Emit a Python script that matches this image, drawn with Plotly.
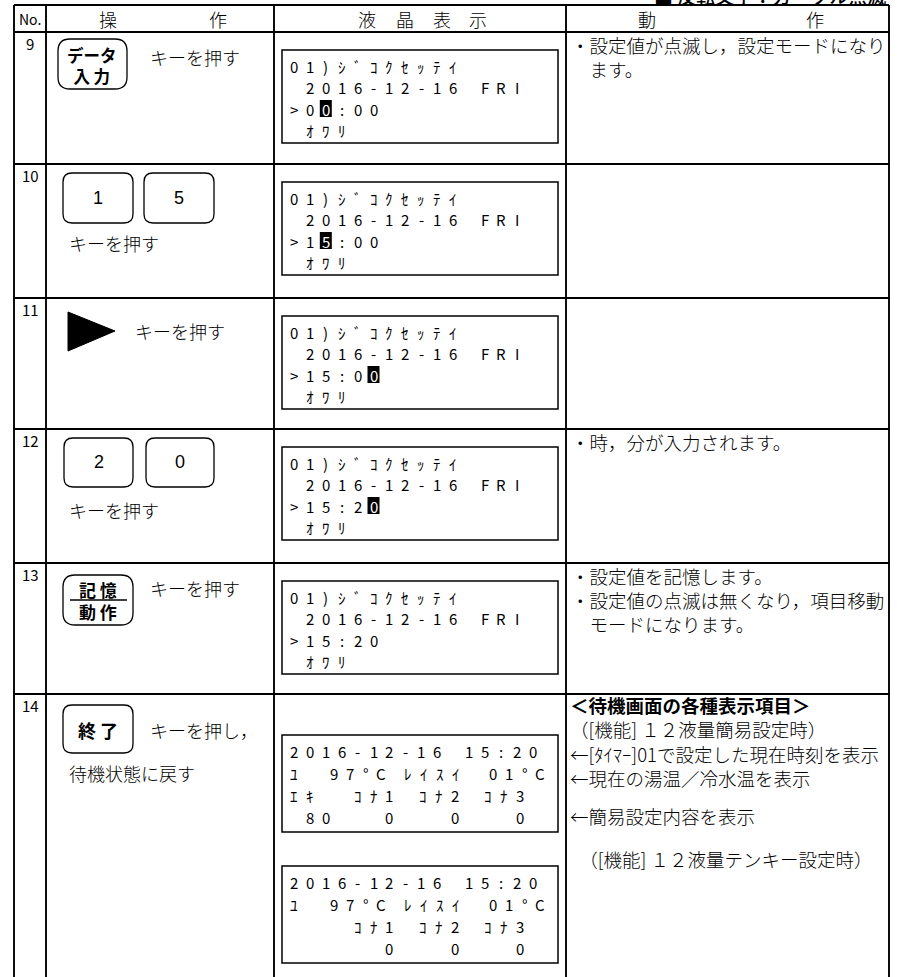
import plotly.graph_objects as go

W, H = 897, 977
JP = "Noto Sans CJK JP"

# ---------------- content ----------------
row_numbers = ["9", "10", "11", "12", "13", "14"]
header_no = "No."
header_op = ["操", "作"]
header_lcd = ["液", "晶", "表", "示"]
header_act = ["動", "作"]
legend_note = "■ 反転文字：カーソル点滅"

key_press = "キーを押す"
key_press_back = "キーを押し，"
back_to_wait = "待機状態に戻す"

lcd_screens = [
    ["01)ｼﾞｺｸｾｯﾃｲ", " 2016-12-16 FRI", ">00:00", " ｵﾜﾘ"],
    ["01)ｼﾞｺｸｾｯﾃｲ", " 2016-12-16 FRI", ">15:00", " ｵﾜﾘ"],
    ["01)ｼﾞｺｸｾｯﾃｲ", " 2016-12-16 FRI", ">15:00", " ｵﾜﾘ"],
    ["01)ｼﾞｺｸｾｯﾃｲ", " 2016-12-16 FRI", ">15:20", " ｵﾜﾘ"],
    ["01)ｼﾞｺｸｾｯﾃｲ", " 2016-12-16 FRI", ">15:20", " ｵﾜﾘ"],
]
cursor_cols = [2, 2, 5, 5, None]   # highlighted (blinking) character in line 3

# standby screens: each line is a list of (start column, text) pieces
wait_screen_simple = [
    [(0, "2016-12-16"), (11, "15:20")],
    [(0, "ﾕ"), (2.5, "97°C"), (7.2, "ﾚｲｽｲ"), (12.5, "01°C")],
    [(0, "ｴｷ"), (4, "ｺﾅ1"), (8.1, "ｺﾅ2"), (12.2, "ｺﾅ3")],
    [(1, "80"), (6, "0"), (10.1, "0"), (14.2, "0")],
]
wait_screen_tenkey = [
    [(0, "2016-12-16"), (11, "15:20")],
    [(0, "ﾕ"), (2.5, "97°C"), (7.2, "ﾚｲｽｲ"), (12.5, "01°C")],
    [(4, "ｺﾅ1"), (8.1, "ｺﾅ2"), (12.2, "ｺﾅ3")],
    [(6, "0"), (10.1, "0"), (14.2, "0")],
]

notes = [
    ["・設定値が点滅し，設定モードになり", "　ます。"],
    [],
    [],
    ["・時，分が入力されます。"],
    ["・設定値を記憶します。", "・設定値の点滅は無くなり，項目移動", "　モードになります。"],
]
wait_title = "＜待機画面の各種表示項目＞"
wait_mode_simple = "（[機能] １２液量簡易設定時）"
wait_arrows = ["←[ﾀｲﾏｰ]01で設定した現在時刻を表示", "←現在の湯温／冷水温を表示"]
wait_arrow_setting = "←簡易設定内容を表示"
wait_mode_tenkey = "　（[機能] １２液量テンキー設定時）"

# ---------------- layout geometry ----------------
col_edges = [14, 46, 274, 566, 889]
row_edges = [5, 32, 164, 298, 429, 563, 694]

shapes = []
ann = []


def line(x0, y0, x1, y1, w=1.9):
    shapes.append(dict(type="line", x0=x0, y0=y0, x1=x1, y1=y1,
                       line=dict(color="black", width=w), xref="x", yref="y"))


def rect(x0, y0, x1, y1, w=1.5, fill=None):
    d = dict(type="rect", x0=x0, y0=y0, x1=x1, y1=y1, xref="x", yref="y",
             line=dict(color="black", width=w))
    if fill:
        d["fillcolor"] = fill
        d["line"] = dict(color=fill, width=0)
    shapes.append(d)


def rrect(x0, y0, x1, y1, r=9, w=1.3):
    p = (f"M{x0+r},{y0} L{x1-r},{y0} Q{x1},{y0} {x1},{y0+r} L{x1},{y1-r} "
         f"Q{x1},{y1} {x1-r},{y1} L{x0+r},{y1} Q{x0},{y1} {x0},{y1-r} "
         f"L{x0},{y0+r} Q{x0},{y0} {x0+r},{y0} Z")
    shapes.append(dict(type="path", path=p, xref="x", yref="y",
                       line=dict(color="black", width=w)))


def text(x, y, s, size=18, anchor="left", color="black", family=JP, weight=300,
         yanchor="middle", align="left"):
    f = dict(family=family, size=size, color=color)
    if weight:
        f["weight"] = weight
    ann.append(dict(x=x, y=y, xref="x", yref="y", text=s, showarrow=False,
                    xanchor=anchor, yanchor=yanchor, align=align, font=f))


# table grid
for x in col_edges:
    line(x, row_edges[0], x, H + 5)
for y in row_edges:
    line(col_edges[0], y, col_edges[-1], y)

# header
text(30, 19, header_no, size=14, anchor="center", family="Liberation Sans Narrow, " + JP,
     weight=None)
for ch, x in zip(header_op, [108, 218]):
    text(x, 19, ch, anchor="center")
for ch, x in zip(header_lcd, [367, 405, 442, 478]):
    text(x, 19, ch, anchor="center")
for ch, x in zip(header_act, [647, 815]):
    text(x, 19, ch, anchor="center")
# note above the table (cut by the page top, as in the original)
ann.append(dict(x=888, y=1 + 5 / H, xref="x", yref="paper", text=legend_note,
                showarrow=False, xanchor="right", yanchor="middle",
                font=dict(family=JP, size=19, color="black", weight=500)))

# row numbers
for i, n in enumerate(row_numbers):
    text(30, row_edges[i + 1] + 11, n, size=15, anchor="center",
         family="Liberation Sans Narrow, " + JP, weight=None)

# ---- operation column ----
# row 9 : data-input key
t = row_edges[1]
rrect(58, t + 7, 127, t + 57, r=12)
text(92, t + 33, "<b>データ<br>入 力</b>", size=16.5, anchor="center", weight=None,
     align="center")
text(148, t + 25, key_press)
# row 10 : 1 5 keys
t = row_edges[2]
for (x0, x1), lab in zip([(63, 133), (144, 214)], ["1", "5"]):
    rrect(x0, t + 9, x1, t + 59, r=9)
    text((x0 + x1) / 2, t + 34, lab, size=18, anchor="center", family="Liberation Sans",
         weight=None)
text(67, t + 79, key_press)
# row 11 : right arrow key
t = row_edges[3]
shapes.append(dict(type="path", xref="x", yref="y",
                   path=f"M68,{t+14} L115,{t+33} L68,{t+53} Z",
                   fillcolor="black", line=dict(color="black", width=1)))
text(133, t + 33, key_press)
# row 12 : 2 0 keys
t = row_edges[4]
for (x0, x1), lab in zip([(64, 133), (146, 214)], ["2", "0"]):
    rrect(x0, t + 9, x1, t + 58, r=9)
    text((x0 + x1) / 2, t + 33, lab, size=18, anchor="center", family="Liberation Sans",
         weight=None)
text(67, t + 81, key_press)
# row 13 : memory key
t = row_edges[5]
rrect(63, t + 12, 133, t + 62, r=12)
line(70, t + 37, 127, t + 37, w=1.6)
text(98, t + 37, "<b>記 憶<br>動 作</b>", size=17, anchor="center", weight=None,
     align="center")
text(148, t + 25, key_press)
# row 14 : end key
t = row_edges[6]
rrect(63, t + 11, 133, t + 59, r=9)
text(98, t + 36, "<b>終 了</b>", size=18, anchor="center", weight=None)
text(148, t + 36, key_press_back)
text(67, t + 79, back_to_wait)

# ---- LCD column ----
PITCH = 15.9
COL0 = 294
LCD_SIZE = 15


def lcd_box(box_top, box_h):
    rect(282, box_top, 558, box_top + box_h, w=1.5)


def lcd_char(col, y, ch, color="black"):
    text(COL0 + col * PITCH, y, ch, size=LCD_SIZE, anchor="center", color=color,
         weight=None)


for i, scr in enumerate(lcd_screens):
    bt = row_edges[i + 1] + 18
    lcd_box(bt, 93)
    for li, s in enumerate(scr):
        y = bt + 16 + li * 21.5
        for ci, ch in enumerate(s):
            if ch == " ":
                continue
            col = "black"
            if cursor_cols[i] is not None and li == 2 and ci == cursor_cols[i]:
                x = COL0 + ci * PITCH
                rect(x - 6, y - 9, x + 6, y + 8, fill="black")
                col = "white"
            lcd_char(ci, y, ch, col)

for bt, scr in [(735, wait_screen_simple), (866, wait_screen_tenkey)]:
    lcd_box(bt, 97)
    for li, pieces in enumerate(scr):
        y = bt + 16 + li * 22
        for c0, s in pieces:
            for k, ch in enumerate(s):
                lcd_char(c0 + k, y, ch)

# ---- action column ----
NS = 18.5
for i, nl in enumerate(notes):
    if nl:
        text(569, row_edges[i + 1] - 2, "<br>".join(nl), size=NS, yanchor="top")

t = row_edges[6]
text(568, t - 4, "<b>" + wait_title + "</b><br>" + wait_mode_simple, size=NS, yanchor="top")
text(568, t + 45, "<br>".join(wait_arrows), size=NS, yanchor="top")
text(568, t + 122, wait_arrow_setting, size=NS)
text(568, t + 165, wait_mode_tenkey, size=NS)

fig = go.Figure()
fig.update_layout(
    width=W, height=H,
    margin=dict(l=0, r=0, t=0, b=0),
    paper_bgcolor="white", plot_bgcolor="white",
    xaxis=dict(range=[0, W], visible=False, fixedrange=True),
    yaxis=dict(range=[H, 0], visible=False, fixedrange=True),
    shapes=shapes, annotations=ann, showlegend=False,
)
fig.write_html("out.html", config={"displayModeBar": False, "staticPlot": True},
               post_script="document.body.style.margin='0px';")
